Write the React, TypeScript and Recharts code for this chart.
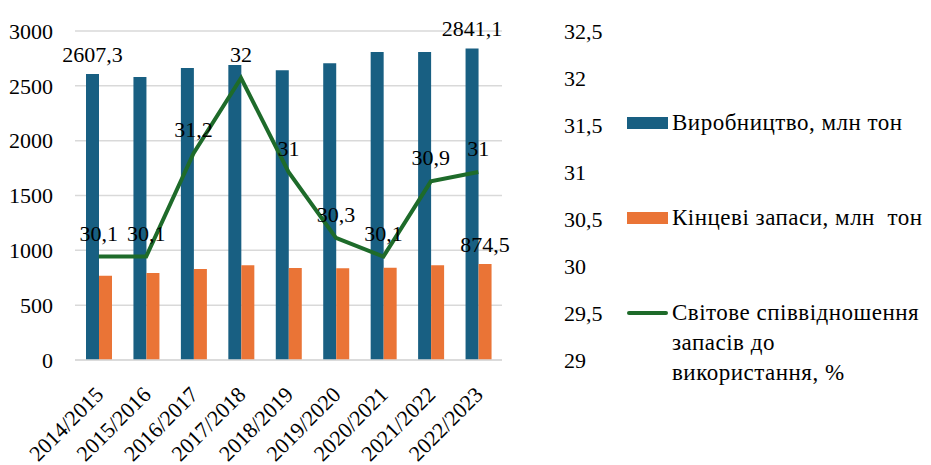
import React from "react";
import {
  ComposedChart,
  Bar,
  Line,
  XAxis,
  YAxis,
  CartesianGrid,
  LabelList,
} from "recharts";

const seasons = [
  "2014/2015",
  "2015/2016",
  "2016/2017",
  "2017/2018",
  "2018/2019",
  "2019/2020",
  "2020/2021",
  "2021/2022",
  "2022/2023",
];
const production = [2607.3, 2580, 2662, 2689, 2641, 2707, 2808, 2808, 2841.1];
const endStocks = [768, 793, 830, 863, 839, 836, 842, 863, 874.5];
const stockRatio = [30.1, 30.1, 31.2, 32, 31, 30.3, 30.1, 30.9, 31];
const leftTicks = [0, 500, 1000, 1500, 2000, 2500, 3000];
const rightTicks = [29, 29.5, 30, 30.5, 31, 31.5, 32, 32.5];

const BLUE = "#185f82";
const ORANGE = "#ea7436";
const GREEN = "#1e6b2a";
const FONT = "Liberation Serif, Tinos, Times New Roman, DejaVu Serif, serif";

const chartData = seasons.map((season, i) => ({
  season,
  production: production[i],
  stocks: endStocks[i],
  ratio: stockRatio[i],
}));

const fmt = (v: number) => String(v).replace(".", ",");
const last = seasons.length - 1;

const CatTick = ({ x, y, payload }: any) => (
  <g transform={`translate(${x + 6},${y + 28})`}>
    <text
      textAnchor="end"
      transform="rotate(-45)"
      fill="#000"
      fontSize={22}
      style={{ fontFamily: FONT }}
    >
      {payload.value}
    </text>
  </g>
);

const edgeLabel = (indices: number[]) => (props: any) => {
  const { x, y, width, value, index } = props;
  if (!indices.includes(index)) return null;
  return (
    <text
      x={x + width / 2}
      y={y - 12}
      textAnchor="middle"
      fill="#000"
      fontSize={22}
      style={{ fontFamily: FONT }}
    >
      {fmt(value)}
    </text>
  );
};

const legendText: React.CSSProperties = {
  position: "absolute",
  left: 664,
  fontFamily: FONT,
  fontSize: 23,
  letterSpacing: 0.5,
  lineHeight: "30px",
  color: "#000",
  whiteSpace: "pre",
};

export default function App() {
  return (
    <div style={{ position: "relative", width: 923, height: 457, fontFamily: FONT }}>
      <ComposedChart
        width={923}
        height={457}
        data={chartData}
        margin={{ top: 23, right: 0, left: 0, bottom: 0 }}
        barGap={0}
        style={{ fontFamily: FONT }}
      >
        <CartesianGrid yAxisId="left" vertical={false} stroke="#d9d9d9" strokeWidth={1.5} />
        <XAxis
          dataKey="season"
          height={105}
          interval={0}
          tick={<CatTick />}
          tickLine={false}
          axisLine={{ stroke: "#d9d9d9", strokeWidth: 1.5 }}
        />
        <YAxis
          yAxisId="left"
          width={67}
          domain={[0, 3000]}
          ticks={leftTicks}
          axisLine={false}
          tickLine={false}
          tickMargin={16}
          tick={{ fill: "#000", fontSize: 22, style: { fontFamily: FONT } }}
        />
        <YAxis
          yAxisId="right"
          orientation="right"
          width={429}
          domain={[29, 32.5]}
          ticks={rightTicks}
          axisLine={false}
          tickLine={false}
          tickMargin={56}
          tickFormatter={fmt}
          tick={{ fill: "#000", fontSize: 22, textAnchor: "start", style: { fontFamily: FONT } }}
        />
        <Bar yAxisId="left" dataKey="production" fill={BLUE} barSize={13} isAnimationActive={false}>
          <LabelList dataKey="production" content={edgeLabel([0, last])} />
        </Bar>
        <Bar yAxisId="left" dataKey="stocks" fill={ORANGE} barSize={13} isAnimationActive={false}>
          <LabelList dataKey="stocks" content={edgeLabel([last])} />
        </Bar>
        <Line
          yAxisId="right"
          dataKey="ratio"
          stroke={GREEN}
          strokeWidth={4}
          dot={false}
          isAnimationActive={false}
        >
          <LabelList
            dataKey="ratio"
            position="top"
            offset={16}
            formatter={fmt}
            style={{ fill: "#000", fontSize: 22, fontFamily: FONT }}
          />
        </Line>
      </ComposedChart>

      <div style={{ position: "absolute", left: 619, top: 109, width: 41, height: 12, background: BLUE }} />
      <div style={{ ...legendText, top: 100 }}>Виробництво, млн тон</div>
      <div style={{ position: "absolute", left: 619, top: 204, width: 41, height: 12, background: ORANGE }} />
      <div style={{ ...legendText, top: 195 }}>Кінцеві запаси, млн  тон</div>
      <div style={{ position: "absolute", left: 619, top: 303, width: 41, height: 4, borderRadius: 2, background: GREEN }} />
      <div style={{ ...legendText, top: 290 }}>
        Світове співвідношення
        <br />
        запасів до
        <br />
        використання, %
      </div>
    </div>
  );
}
